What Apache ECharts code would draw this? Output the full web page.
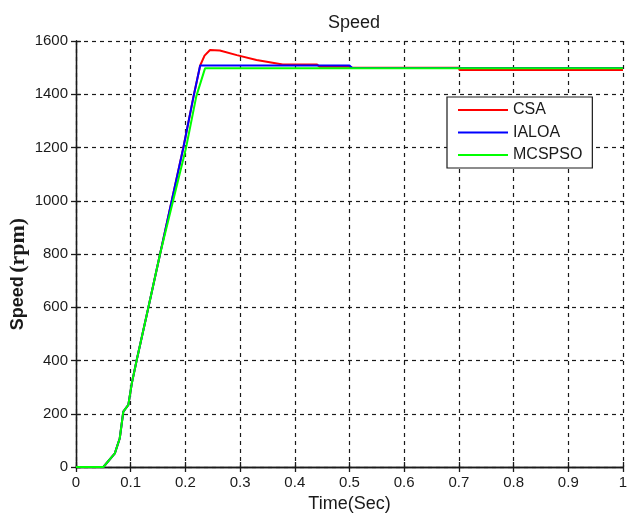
<!DOCTYPE html>
<html>
<head>
<meta charset="utf-8">
<script src="https://cdn.jsdelivr.net/npm/echarts@6/dist/echarts.min.js"></script>
<style>
  html, body { margin: 0; padding: 0; background: #fff; }
  #chart { width: 627px; height: 516px; }
</style>
</head>
<body>
<div id="chart"></div>
<script>
// Speed response of the drive for three tuning methods
const seriesNames = ['CSA', 'IALOA', 'MCSPSO'];

const csaTime  = [0, 0.05, 0.071, 0.080, 0.0865, 0.0957, 0.102, 0.111, 0.132, 0.154, 0.196, 0.215, 0.227, 0.235, 0.245, 0.263, 0.294, 0.33, 0.378, 0.44, 0.446, 0.5, 0.505, 0.7, 0.701, 1];
const csaSpeed = [0, 0, 51, 108, 208, 233, 314, 402, 596, 803, 1197, 1393, 1508, 1545, 1566, 1564, 1547, 1529, 1512, 1512, 1503, 1503, 1500, 1500, 1491, 1491];

const ialoaTime  = [0, 0.05, 0.071, 0.080, 0.0865, 0.0957, 0.102, 0.111, 0.132, 0.154, 0.196, 0.215, 0.227, 0.5, 0.505, 1];
const ialoaSpeed = [0, 0, 51, 108, 208, 233, 314, 402, 596, 803, 1197, 1393, 1508, 1508, 1499, 1499];

const mcspsoTime  = [0, 0.05, 0.071, 0.080, 0.0865, 0.0957, 0.102, 0.111, 0.132, 0.154, 0.201, 0.220, 0.236, 1];
const mcspsoSpeed = [0, 0, 51, 108, 208, 233, 314, 402, 596, 803, 1197, 1393, 1498, 1498];

const xTicks = { min: 0, max: 1, interval: 0.1 };
const yTicks = { min: 0, max: 1600, interval: 200 };

const colors = ['#ff0000', '#0000ff', '#00ff00'];

function pairs(t, v) { return t.map((x, i) => [x, v[i]]); }

const FONT = 'Liberation Sans, Arial, sans-serif';
const axisLineStyle = { color: '#1a1a1a', width: 1.3 };
const gridDash = { color: '#1a1a1a', width: 1.2, type: [4, 4] };

const chart = echarts.init(document.getElementById('chart'), null, { renderer: 'canvas' });

chart.setOption({
  backgroundColor: '#ffffff',
  animation: false,
  title: {
    text: 'Speed',
    left: 349,
    top: 9,
    textAlign: 'center',
    textStyle: { fontFamily: FONT, fontSize: 18, fontWeight: 'normal', color: '#1a1a1a' }
  },
  legend: {
    data: seriesNames,
    orient: 'vertical',
    left: 447,
    top: 97,
    padding: [5, 10, 5, 10],
    itemGap: 6.5,
    itemWidth: 50,
    itemHeight: 16,
    itemStyle: { opacity: 0 },
    backgroundColor: '#ffffff',
    borderColor: '#1a1a1a',
    borderWidth: 1.2,
    borderRadius: 0,
    textStyle: { fontFamily: FONT, fontSize: 16, lineHeight: 16, color: '#1a1a1a' }
  },
  grid: { left: 76, right: 4, top: 41, bottom: 49, containLabel: false, outerBoundsMode: 'none' },
  xAxis: [
    {
      type: 'value', min: xTicks.min, max: xTicks.max, interval: xTicks.interval,
      position: 'bottom',
      name: 'Time(Sec)', nameLocation: 'middle', nameGap: 28, nameMoveOverlap: false,
      nameTextStyle: { fontFamily: FONT, fontSize: 18, color: '#1a1a1a' },
      axisLine: { show: true, lineStyle: axisLineStyle },
      axisTick: { show: true, inside: true, length: 5, lineStyle: axisLineStyle },
      axisLabel: { fontFamily: FONT, fontSize: 15, color: '#1a1a1a', margin: 8 },
      splitLine: { show: true, lineStyle: gridDash }
    },
    {
      type: 'value', min: xTicks.min, max: xTicks.max, interval: xTicks.interval,
      position: 'top',
      axisLine: { show: true, lineStyle: axisLineStyle },
      axisTick: { show: true, inside: true, length: 5, lineStyle: axisLineStyle },
      axisLabel: { show: false },
      splitLine: { show: false }
    }
  ],
  yAxis: [
    {
      type: 'value', min: yTicks.min, max: yTicks.max, interval: yTicks.interval,
      position: 'left',
      name: '{a|Speed} {b|(rpm)}', nameLocation: 'middle', nameGap: 47, nameRotate: 90,
      nameMoveOverlap: false,
      nameTextStyle: {
        padding: [0, 40, 0, 0],
        rich: {
          a: { fontFamily: FONT, fontSize: 18, fontWeight: 'bold', color: '#1a1a1a' },
          b: { fontFamily: 'Liberation Serif, Times New Roman, serif', fontSize: 22, fontWeight: 'bold', color: '#1a1a1a' }
        }
      },
      axisLine: { show: true, lineStyle: axisLineStyle },
      axisTick: { show: true, inside: true, length: 5, lineStyle: axisLineStyle },
      axisLabel: { fontFamily: FONT, fontSize: 15, color: '#1a1a1a', margin: 8, formatter: (v) => String(v) },
      splitLine: { show: true, lineStyle: gridDash }
    },
    {
      type: 'value', min: yTicks.min, max: yTicks.max, interval: yTicks.interval,
      position: 'right',
      axisLine: { show: true, lineStyle: axisLineStyle },
      axisTick: { show: true, inside: true, length: 5, lineStyle: axisLineStyle },
      axisLabel: { show: false },
      splitLine: { show: false }
    }
  ],
  series: [
    { name: seriesNames[0], type: 'line', data: pairs(csaTime, csaSpeed) },
    { name: seriesNames[1], type: 'line', data: pairs(ialoaTime, ialoaSpeed) },
    { name: seriesNames[2], type: 'line', data: pairs(mcspsoTime, mcspsoSpeed) }
  ].map((s, i) => Object.assign(s, {
    xAxisIndex: 0, yAxisIndex: 0,
    symbol: 'none', smooth: false,
    color: colors[i],
    lineStyle: { color: colors[i], width: 2 },
    z: 3 + i
  }))
});
</script>
</body>
</html>
